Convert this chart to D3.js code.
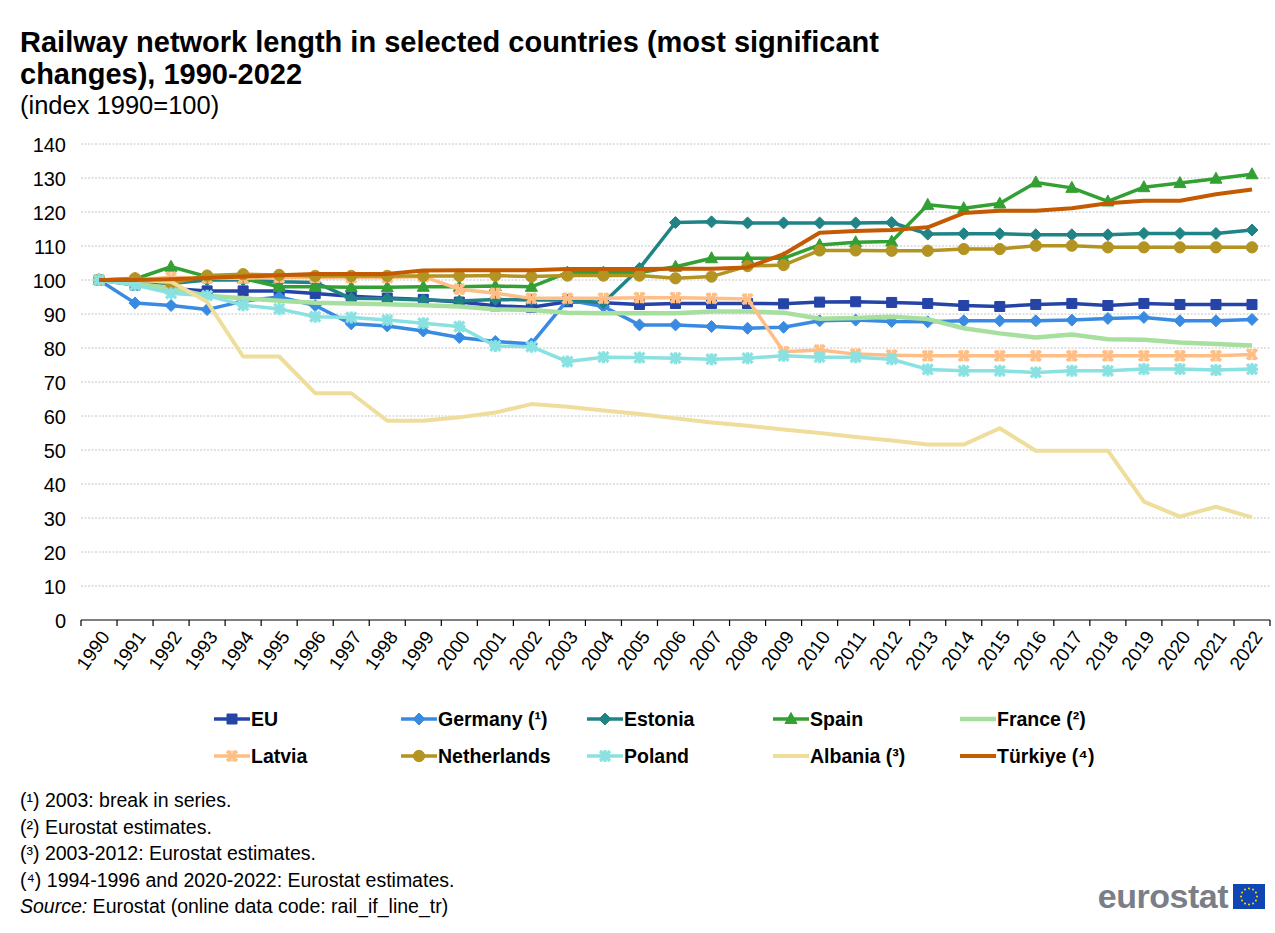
<!DOCTYPE html>
<html><head><meta charset="utf-8">
<script src="https://cdn.jsdelivr.net/npm/d3@7"></script>
<style>
body{margin:0;background:#fff;}
svg{display:block;font-family:"Liberation Sans",Arial,sans-serif;}
</style></head>
<body><svg id="c" width="1275" height="933"></svg>
<script>
const years = ["1990","1991","1992","1993","1994","1995","1996","1997","1998","1999","2000","2001","2002","2003","2004","2005","2006","2007","2008","2009","2010","2011","2012","2013","2014","2015","2016","2017","2018","2019","2020","2021","2022"];
const yTicks = [0,10,20,30,40,50,60,70,80,90,100,110,120,130,140];
const seriesNames = ["EU","Germany (¹)","Estonia","Spain","France (²)","Latvia","Netherlands","Poland","Albania (³)","Türkiye (⁴)"];
const eu = [100,98.5,97.5,96.8,96.8,96.8,96,95.2,94.7,94.3,93.5,92.4,92,93.6,93.3,92.8,93.1,93.1,93.1,93,93.5,93.6,93.4,93.1,92.5,92.2,92.8,93.1,92.5,93.1,92.8,92.8,92.8];
const germany = [100,93.2,92.5,91.3,93.8,95,92.5,87.1,86.5,85,83.1,81.9,81.2,94.1,92.2,86.8,86.8,86.3,85.8,86.1,88,88.2,87.8,87.7,88,88,88,88.2,88.7,89,88,88,88.4];
const estonia = [100,99.5,99,100,100,99.5,99.3,94.6,94.5,94.1,93.8,94.3,94.1,94.1,93.3,103.4,116.9,117.1,116.8,116.8,116.8,116.8,116.9,113.5,113.6,113.6,113.3,113.3,113.3,113.7,113.7,113.7,114.7];
const spain = [100,100.3,103.9,101,100.5,98,98,97.9,97.9,98,98,98.2,98,102.2,102.2,102.2,103.9,106.4,106.4,106.4,110.3,111.1,111.3,122.1,121.1,122.5,128.7,127.1,123.1,127.3,128.5,129.8,131.1];
const france = [100,99,97.5,95.4,94.6,93.9,93.3,93.1,92.9,92.6,92.2,91.4,91.2,90.4,90.2,90.2,90.2,90.7,90.7,90.4,88.6,88.8,89.2,88.5,85.8,84.3,83.1,84,82.6,82.4,81.6,81.2,80.7];
const latvia = [100,100,100.8,100.5,100.5,100.7,100.7,100.7,100.7,101,97.3,96.1,94.6,94.6,94.6,94.8,94.8,94.6,94.4,78.9,79.4,78.2,77.9,77.7,77.7,77.7,77.7,77.7,77.7,77.7,77.7,77.7,78.1];
const netherlands = [100,100.5,99,101.3,101.7,101.5,101.2,101.2,101.2,101.2,101.2,101.3,101,101.3,101.3,101.3,100.5,101,104.1,104.4,108.7,108.7,108.6,108.6,109.1,109.1,110.1,110.1,109.6,109.6,109.6,109.6,109.6];
const poland = [100,98.5,96.1,95.4,92.6,91.5,89.2,89,88.2,87.3,86.3,80.6,80.4,76,77.3,77.2,77,76.7,77,77.7,77.3,77.3,76.7,73.7,73.3,73.3,72.8,73.3,73.3,73.8,73.8,73.5,73.8];
const albania = [100,100,99.5,93.6,77.5,77.5,66.7,66.7,58.6,58.6,59.6,61,63.5,62.7,61.6,60.6,59.3,58.1,57.1,56,55,53.8,52.8,51.6,51.6,56.4,49.8,49.8,49.8,34.8,30.4,33.3,30.2];
const turkiye = [100,100,100.2,100.6,101,101.4,101.8,101.8,101.8,102.8,102.9,102.9,102.9,103.2,103.2,103.2,103.3,103.3,103.7,107.6,113.9,114.4,114.7,115.5,119.7,120.4,120.4,121.1,122.6,123.3,123.3,125.2,126.6];
const footnotes = ["(¹) 2003: break in series.","(²) Eurostat estimates.","(³) 2003-2012: Eurostat estimates.","(⁴) 1994-1996 and 2020-2022: Eurostat estimates."];

const values = [eu,germany,estonia,spain,france,latvia,netherlands,poland,albania,turkiye];
const colors = ["#2644A7","#388AE2","#208486","#33A033","#A6DF9E","#FFBE85","#B39322","#8AE1E1","#EFDD9C","#C45B03"];
const markers = ["square","diamond","diamond","triangle","none","x","circle","star","none","none"];
const widths = [3.5,3.5,3.5,3.5,4.5,3.5,3.5,3.5,4,4];

const svg = d3.select("#c");
const x = d3.scaleBand().domain(years).range([81,1270]);
const y = d3.scaleLinear().domain([0,140]).range([620,144]);

// Title
svg.append("text").attr("x",20).attr("y",52).attr("font-size",29).attr("font-weight","bold").text("Railway network length in selected countries (most significant");
svg.append("text").attr("x",20).attr("y",84).attr("font-size",29).attr("font-weight","bold").text("changes), 1990-2022");
svg.append("text").attr("x",20).attr("y",114).attr("font-size",25.5).text("(index 1990=100)");

// Grid
const grid = svg.append("g");
yTicks.filter(d=>d>0).forEach(t=>{
  grid.append("line").attr("x1",81).attr("x2",1270).attr("y1",y(t)).attr("y2",y(t))
    .attr("stroke","#c4c4c4").attr("stroke-width",1).attr("stroke-dasharray","2,1.5");
});
// Y labels
const yAxis = d3.axisLeft(y).tickValues(yTicks).tickSize(0).tickPadding(0);
const yg = svg.append("g").attr("transform","translate(66,0)").call(yAxis);
yg.select(".domain").remove();
yg.selectAll("text").attr("font-size",20).attr("fill","#000").attr("font-family","Liberation Sans, Arial").attr("dy","0.35em");

// X axis
const xg = svg.append("g").attr("transform","translate(0,620)");
xg.append("line").attr("x1",81).attr("x2",1270).attr("stroke","#000").attr("stroke-width",1.2);
const bounds = years.map(d=>x(d)).concat([x.range()[1]]);
bounds.forEach(b=>{
  xg.append("line").attr("x1",b).attr("x2",b).attr("y1",0).attr("y2",6).attr("stroke","#000").attr("stroke-width",1.2);
});
years.forEach(d=>{
  const cx = x(d)+x.bandwidth()/2 + 6;
  xg.append("text").attr("transform",`translate(${cx},13) rotate(-55)`)
    .attr("text-anchor","end").attr("dy","0.35em").attr("font-size",19).text(d);
});

// marker path
function markerPath(type){
  switch(type){
    case "square": return "M-5,-5H5V5H-5Z";
    case "diamond": return "M0,-6L6,0L0,6L-6,0Z";
    case "triangle": return "M0,-6.5L6,4.5L-6,4.5Z";
    case "circle": return d3.symbol(d3.symbolCircle,100)();
    case "x": return "M-5,-5L5,5M5,-5L-5,5M-2,-5.5L-2,5.5M2,-5.5L2,5.5";
    case "star": return "M-5,-5L5,5M5,-5L-5,5M0,-6L0,6M-6,0L6,0";
  }
  return null;
}
function drawMarker(g, type, color, cx, cy){
  const p = markerPath(type);
  if(!p) return;
  if(type==="x"||type==="star"){
    g.append("path").attr("d",p).attr("transform",`translate(${cx},${cy})`).attr("fill","none").attr("stroke",color).attr("stroke-width",3.2);
  } else {
    g.append("path").attr("d",p).attr("transform",`translate(${cx},${cy})`).attr("fill",color).attr("stroke",color).attr("stroke-width",1);
  }
}

const line = d3.line().x((d,i)=>x(years[i])+x.bandwidth()/2).y(d=>y(d));
const plot = svg.append("g");
values.forEach((vals,k)=>{
  const g = plot.append("g");
  g.append("path").datum(vals).attr("d",line).attr("fill","none").attr("stroke",colors[k])
    .attr("stroke-width",widths[k]).attr("stroke-linejoin","round");
  vals.forEach((v,i)=>drawMarker(g,markers[k],colors[k],x(years[i])+x.bandwidth()/2,y(v)));
});

// Legend
const legX = [214,401,587,773,960];
const legY = [719,756];
seriesNames.forEach((n,k)=>{
  const col = k%5, row = Math.floor(k/5);
  const lx = legX[col], ly = legY[row];
  const g = svg.append("g");
  g.append("line").attr("x1",lx).attr("x2",lx+36).attr("y1",ly).attr("y2",ly).attr("stroke",colors[k]).attr("stroke-width",widths[k]);
  drawMarker(g,markers[k],colors[k],lx+18,ly);
  g.append("text").attr("x",lx+37).attr("y",ly).attr("dy","0.36em").attr("font-size",19.5).attr("font-weight","bold").text(n);
});

// Footnotes
footnotes.forEach((f,i)=>{
  svg.append("text").attr("x",20).attr("y",807+i*26.5).attr("font-size",19.5).text(f);
});
const src = svg.append("text").attr("x",20).attr("y",913).attr("font-size",19.5);
src.append("tspan").attr("font-style","italic").text("Source:");
src.append("tspan").text(" Eurostat (online data code: rail_if_line_tr)");

// Logo
svg.append("text").attr("x",1228).attr("y",908).attr("text-anchor","end").attr("font-size",34).attr("font-weight","bold").attr("fill","#7a7e86").attr("letter-spacing","-0.5").text("eurostat");
svg.append("rect").attr("x",1233).attr("y",884).attr("width",32).attr("height",25).attr("fill","#1046B4");
d3.range(12).forEach(i=>{
  const a = i/12*2*Math.PI;
  svg.append("circle").attr("cx",1249+8*Math.cos(a)).attr("cy",896.5+8*Math.sin(a)).attr("r",1).attr("fill","#FFDD00");
});
</script></body></html>
